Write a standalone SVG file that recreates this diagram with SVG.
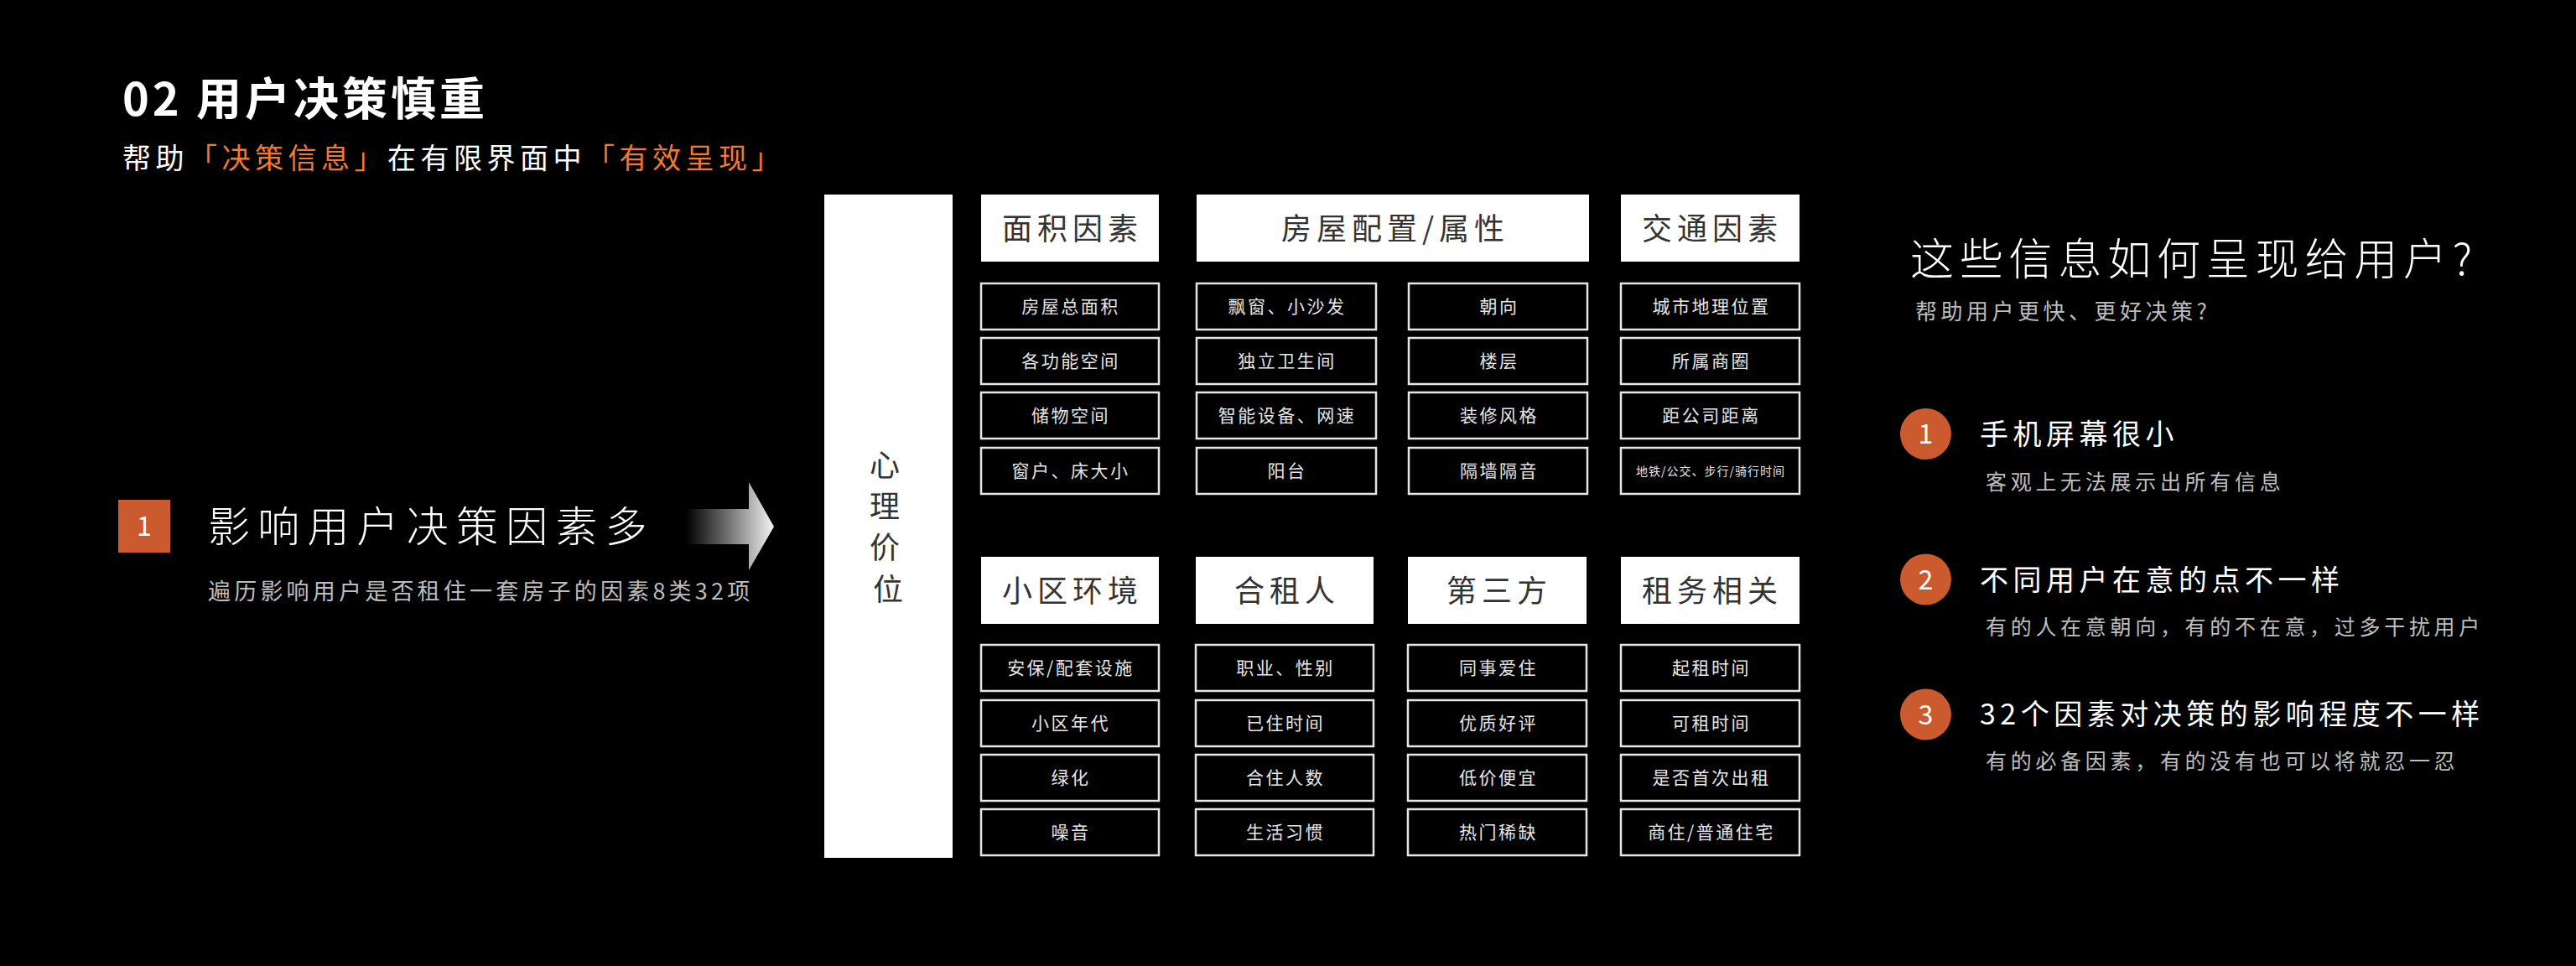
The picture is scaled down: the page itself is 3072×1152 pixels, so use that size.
<svg xmlns="http://www.w3.org/2000/svg" width="3072" height="1152" viewBox="0 0 3072 1152">
<defs>
<linearGradient id="arrowGrad" x1="818" y1="0" x2="923" y2="0" gradientUnits="userSpaceOnUse">
<stop offset="0" stop-color="#000000"/>
<stop offset="0.45" stop-color="#6a6a6a"/>
<stop offset="1" stop-color="#f4f4f4"/>
</linearGradient>
<style>
text{font-family:"Noto Sans CJK SC","Noto Sans",sans-serif;}
.title{font-size:54px;font-weight:700;fill:#ffffff;letter-spacing:4px;}
.sub{font-size:34px;fill:#ffffff;letter-spacing:5.5px;}
.or{fill:#ef7a31;}
.hd{fill:#ffffff;}
.hdt{font-size:36px;fill:#333333;text-anchor:middle;letter-spacing:6px;}
.it{fill:#000000;stroke:#e6e6e6;stroke-width:2.5;}
.itt{font-size:21px;fill:#e6e6e6;text-anchor:middle;letter-spacing:2.5px;}
.big{font-size:50px;fill:#ffffff;font-weight:300;letter-spacing:9.2px;}
.gray{fill:#bdbdbd;}
.badge{fill:#cb5a2e;}
.num{font-size:32px;fill:#ffffff;text-anchor:middle;}
.q{font-size:52px;fill:#ffffff;font-weight:300;letter-spacing:6.8px;}
.h3{font-size:34px;fill:#ffffff;letter-spacing:5.5px;}
.s3{font-size:25px;fill:#bdbdbd;letter-spacing:4.7px;}
</style>
</defs>
<rect x="0" y="0" width="3072" height="1152" fill="#000000"/>

<g id="title">
<text class="title" x="146" y="138">02 用户决策慎重</text>
<text class="sub" x="146" y="201">帮助<tspan class="or">「决策信息」</tspan>在有限界面中<tspan class="or">「有效呈现」</tspan></text>
</g>

<g id="point-left">
<rect class="badge" x="141" y="596" width="62" height="63"/>
<text class="num" x="172" y="639">1</text>
<text class="big" x="248" y="646">影响用户决策因素多</text>
<text x="248" y="715" font-size="27" fill="#bdbdbd" letter-spacing="4.2">遍历影响用户是否租住一套房子的因素8类32项</text>
</g>

<g id="connectors">
<polygon points="818,607 893,607 893,575 923,628 893,680 893,649 818,649" fill="url(#arrowGrad)"/>
</g>

<g id="node-price">
<rect x="983" y="232" width="153" height="791" fill="#ffffff"/>
<text font-size="36" fill="#333333" text-anchor="middle">
<tspan x="1059" y="568">心</tspan>
<tspan x="1059" y="617">理</tspan>
<tspan x="1059" y="666">价</tspan>
<tspan x="1059" y="716">位</tspan>
</text>
</g>

<g id="node-area">
<rect class="hd" x="1170" y="232" width="212" height="80"/>
<text class="hdt" x="1279" y="286">面积因素</text>
<rect class="it" x="1170" y="338" width="212" height="55"/>
<text class="itt" x="1277" y="373">房屋总面积</text>
<rect class="it" x="1170" y="403" width="212" height="55"/>
<text class="itt" x="1277" y="438">各功能空间</text>
<rect class="it" x="1170" y="468" width="212" height="55"/>
<text class="itt" x="1277" y="503">储物空间</text>
<rect class="it" x="1170" y="534" width="212" height="55"/>
<text class="itt" x="1277" y="569">窗户、床大小</text>
</g>

<g id="node-config">
<rect class="hd" x="1427" y="232" width="468" height="80"/>
<text class="hdt" x="1664" y="286">房屋配置/属性</text>
<rect class="it" x="1427" y="338" width="214" height="55"/>
<text class="itt" x="1535" y="373">飘窗、小沙发</text>
<rect class="it" x="1427" y="403" width="214" height="55"/>
<text class="itt" x="1535" y="438">独立卫生间</text>
<rect class="it" x="1427" y="468" width="214" height="55"/>
<text class="itt" x="1535" y="503">智能设备、网速</text>
<rect class="it" x="1427" y="534" width="214" height="55"/>
<text class="itt" x="1535" y="569">阳台</text>
<rect class="it" x="1680" y="338" width="213" height="55"/>
<text class="itt" x="1788" y="373">朝向</text>
<rect class="it" x="1680" y="403" width="213" height="55"/>
<text class="itt" x="1788" y="438">楼层</text>
<rect class="it" x="1680" y="468" width="213" height="55"/>
<text class="itt" x="1788" y="503">装修风格</text>
<rect class="it" x="1680" y="534" width="213" height="55"/>
<text class="itt" x="1788" y="569">隔墙隔音</text>
</g>

<g id="node-traffic">
<rect class="hd" x="1933" y="232" width="213" height="80"/>
<text class="hdt" x="2042" y="286">交通因素</text>
<rect class="it" x="1933" y="338" width="213" height="55"/>
<text class="itt" x="2041" y="373">城市地理位置</text>
<rect class="it" x="1933" y="403" width="213" height="55"/>
<text class="itt" x="2041" y="438">所属商圈</text>
<rect class="it" x="1933" y="468" width="213" height="55"/>
<text class="itt" x="2041" y="503">距公司距离</text>
<rect class="it" x="1933" y="534" width="213" height="55"/>
<text x="2040" y="567" font-size="14" fill="#e6e6e6" text-anchor="middle" letter-spacing="1">地铁/公交、步行/骑行时间</text>
</g>

<g id="node-community">
<rect class="hd" x="1170" y="664" width="212" height="80"/>
<text class="hdt" x="1279" y="718">小区环境</text>
<rect class="it" x="1170" y="769" width="212" height="55"/>
<text class="itt" x="1277" y="804">安保/配套设施</text>
<rect class="it" x="1170" y="835" width="212" height="55"/>
<text class="itt" x="1277" y="870">小区年代</text>
<rect class="it" x="1170" y="900" width="212" height="55"/>
<text class="itt" x="1277" y="935">绿化</text>
<rect class="it" x="1170" y="965" width="212" height="55"/>
<text class="itt" x="1277" y="1000">噪音</text>
</g>

<g id="node-roommate">
<rect class="hd" x="1426" y="664" width="212" height="80"/>
<text class="hdt" x="1535" y="718">合租人</text>
<rect class="it" x="1426" y="769" width="212" height="55"/>
<text class="itt" x="1533" y="804">职业、性别</text>
<rect class="it" x="1426" y="835" width="212" height="55"/>
<text class="itt" x="1533" y="870">已住时间</text>
<rect class="it" x="1426" y="900" width="212" height="55"/>
<text class="itt" x="1533" y="935">合住人数</text>
<rect class="it" x="1426" y="965" width="212" height="55"/>
<text class="itt" x="1533" y="1000">生活习惯</text>
</g>

<g id="node-third">
<rect class="hd" x="1679" y="664" width="213" height="80"/>
<text class="hdt" x="1788" y="718">第三方</text>
<rect class="it" x="1679" y="769" width="213" height="55"/>
<text class="itt" x="1787" y="804">同事爱住</text>
<rect class="it" x="1679" y="835" width="213" height="55"/>
<text class="itt" x="1787" y="870">优质好评</text>
<rect class="it" x="1679" y="900" width="213" height="55"/>
<text class="itt" x="1787" y="935">低价便宜</text>
<rect class="it" x="1679" y="965" width="213" height="55"/>
<text class="itt" x="1787" y="1000">热门稀缺</text>
</g>

<g id="node-lease">
<rect class="hd" x="1933" y="664" width="213" height="80"/>
<text class="hdt" x="2042" y="718">租务相关</text>
<rect class="it" x="1933" y="769" width="213" height="55"/>
<text class="itt" x="2041" y="804">起租时间</text>
<rect class="it" x="1933" y="835" width="213" height="55"/>
<text class="itt" x="2041" y="870">可租时间</text>
<rect class="it" x="1933" y="900" width="213" height="55"/>
<text class="itt" x="2041" y="935">是否首次出租</text>
<rect class="it" x="1933" y="965" width="213" height="55"/>
<text class="itt" x="2041" y="1000">商住/普通住宅</text>
</g>

<g id="right-question">
<text class="q" x="2278" y="328">这些信息如何呈现给用户?</text>
<text x="2284" y="381" font-size="26" fill="#bdbdbd" letter-spacing="4.5">帮助用户更快、更好决策?</text>
</g>

<g id="right-point-1">
<circle class="badge" cx="2296.5" cy="517.5" r="30.5"/>
<text class="num" x="2296.5" y="529">1</text>
<text class="h3" x="2361" y="530">手机屏幕很小</text>
<text class="s3" x="2368" y="584">客观上无法展示出所有信息</text>
</g>

<g id="right-point-2">
<circle class="badge" cx="2296.5" cy="691" r="30.5"/>
<text class="num" x="2296.5" y="702.5">2</text>
<text class="h3" x="2361" y="704">不同用户在意的点不一样</text>
<text class="s3" x="2368" y="757">有的人在意朝向，有的不在意，过多干扰用户</text>
</g>

<g id="right-point-3">
<circle class="badge" cx="2296.5" cy="852" r="30.5"/>
<text class="num" x="2296.5" y="863.5">3</text>
<text class="h3" x="2361" y="864">32个因素对决策的影响程度不一样</text>
<text class="s3" x="2368" y="917">有的必备因素，有的没有也可以将就忍一忍</text>
</g>
</svg>
